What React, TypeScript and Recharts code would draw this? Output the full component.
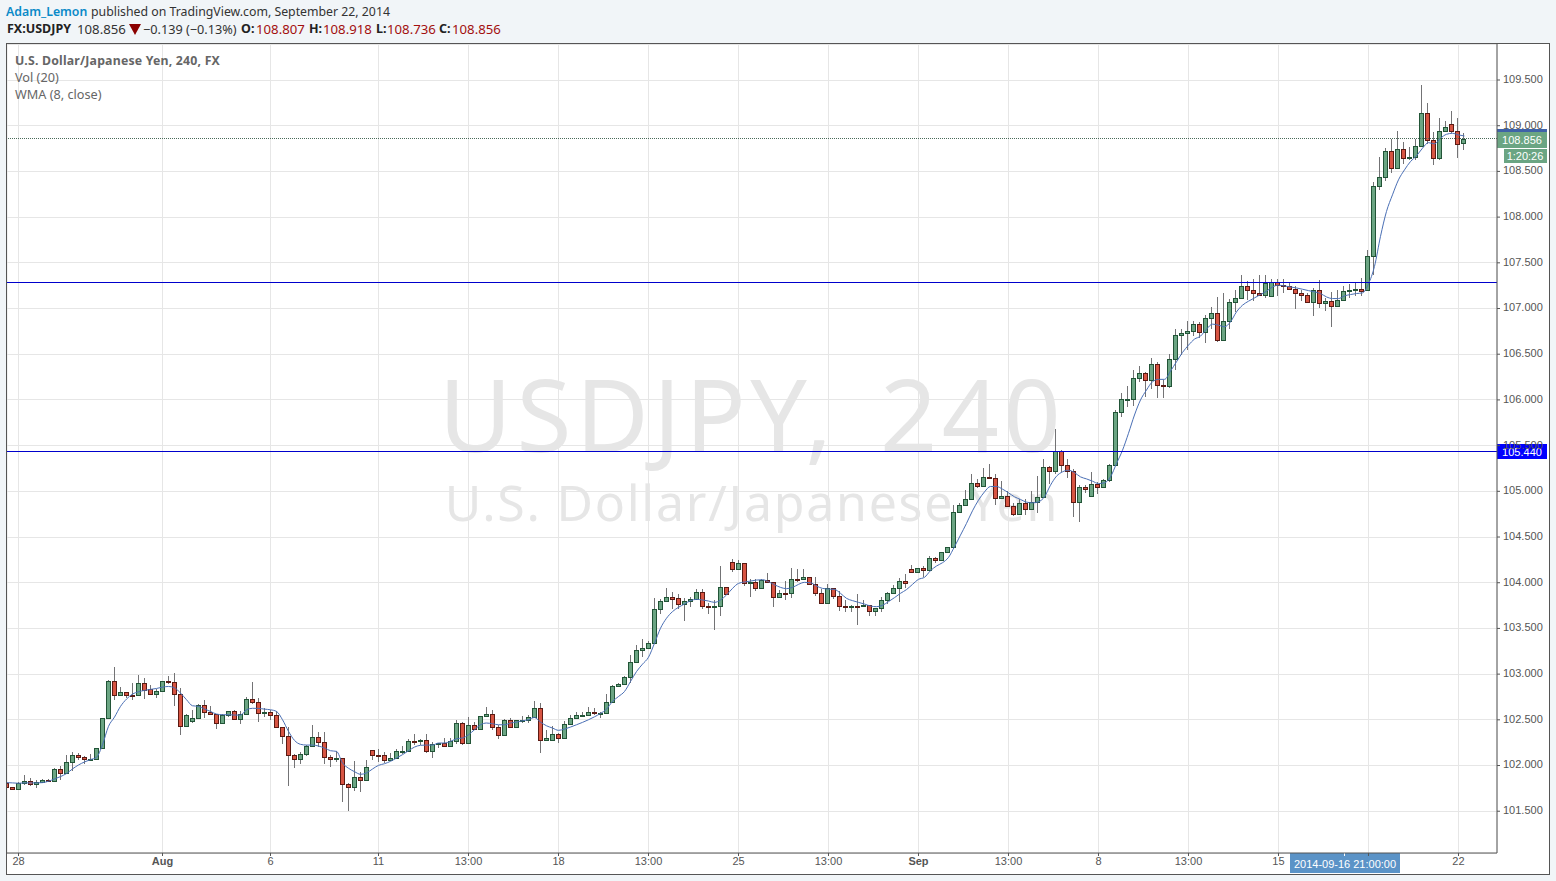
import { ComposedChart, Bar, Line, XAxis, YAxis, CartesianGrid, ReferenceLine } from 'recharts'

const opens = [
  101.81,101.766,101.744,101.806,101.832,101.795,101.817,101.842,101.83,101.96,
  101.915,102.035,102.115,102.09,102.068,102.07,102.19,102.52,102.924,102.77,
  102.803,102.77,102.77,102.90,102.836,102.778,102.814,102.924,102.91,102.78,
  102.432,102.483,102.52,102.661,102.589,102.563,102.461,102.549,102.596,102.505,
  102.563,102.727,102.694,102.574,102.585,102.552,102.421,102.323,102.115,102.072,
  102.126,102.214,102.308,102.257,102.094,102.072,102.083,101.80,101.766,101.875,
  101.842,102.17,102.115,102.115,102.057,102.083,102.155,102.16,102.27,102.268,
  102.279,102.155,102.236,102.247,102.21,102.268,102.465,102.247,102.443,102.40,
  102.541,102.563,102.421,102.334,102.498,102.421,102.494,102.498,102.527,102.629,
  102.279,102.279,102.345,102.301,102.454,102.52,102.552,102.552,102.585,102.57,
  102.58,102.69,102.868,102.89,102.966,103.13,103.261,103.283,103.337,103.716,
  103.796,103.84,103.829,103.763,103.796,103.818,103.894,103.742,103.73,103.742,
  103.949,104.229,104.146,104.211,103.993,104.004,103.938,104.025,104.004,103.84,
  103.884,103.884,104.04,104.036,104.058,103.982,103.884,103.774,103.938,103.851,
  103.742,103.73,103.745,103.742,103.752,103.687,103.72,103.807,103.884,103.938,
  104.015,104.146,104.113,104.157,104.135,104.266,104.244,104.332,104.386,104.779,
  104.845,104.921,105.096,105.063,105.161,105.15,104.932,104.954,104.834,104.757,
  104.867,104.812,104.878,104.943,105.271,105.227,105.445,105.293,105.227,104.888,
  105.052,104.954,105.085,105.052,105.129,105.293,105.864,106.0,106.006,106.236,
  106.29,106.214,106.388,106.159,106.148,106.443,106.705,106.734,106.749,106.833,
  106.738,106.891,106.956,106.661,106.858,107.076,107.12,107.251,107.207,107.175,
  107.153,107.138,107.295,107.262,107.251,107.218,107.175,107.153,107.076,107.207,
  107.055,107.087,107.033,107.098,107.197,107.207,107.218,107.2,107.574,108.339,
  108.437,108.721,108.535,108.743,108.645,108.656,108.776,109.136,108.841,108.645,
  108.94,109.016,108.94,108.807,
]

const closes = [
  101.77,101.744,101.81,101.832,101.795,101.82,101.842,101.828,101.96,101.915,
  102.04,102.115,102.09,102.068,102.072,102.19,102.516,102.924,102.77,102.803,
  102.77,102.765,102.90,102.83,102.778,102.814,102.924,102.909,102.78,102.432,
  102.552,102.516,102.661,102.585,102.563,102.465,102.552,102.596,102.505,102.563,
  102.727,102.694,102.574,102.585,102.552,102.421,102.323,102.115,102.072,102.126,
  102.214,102.308,102.257,102.094,102.072,102.08,101.80,101.766,101.875,101.842,
  101.984,102.115,102.11,102.057,102.083,102.16,102.16,102.268,102.265,102.279,
  102.155,102.236,102.247,102.21,102.268,102.465,102.247,102.443,102.40,102.541,
  102.563,102.421,102.334,102.498,102.421,102.498,102.498,102.527,102.629,102.279,
  102.301,102.345,102.301,102.454,102.52,102.552,102.556,102.585,102.574,102.58,
  102.69,102.868,102.89,102.966,103.13,103.261,103.283,103.337,103.716,103.796,
  103.84,103.825,103.763,103.796,103.818,103.894,103.742,103.73,103.742,103.949,
  103.873,104.146,104.211,103.993,104.004,103.938,104.025,104.004,103.84,103.884,
  103.88,104.036,104.036,104.058,103.982,103.884,103.774,103.938,103.851,103.742,
  103.73,103.742,103.74,103.752,103.687,103.72,103.807,103.884,103.938,104.015,
  103.993,104.113,104.157,104.135,104.266,104.244,104.332,104.386,104.779,104.845,
  104.921,105.096,105.063,105.161,105.15,104.932,104.954,104.834,104.757,104.867,
  104.812,104.878,104.943,105.271,105.227,105.445,105.293,105.227,104.888,105.052,
  105.03,105.085,105.052,105.129,105.293,105.864,106.006,106.006,106.236,106.29,
  106.214,106.388,106.159,106.148,106.443,106.705,106.734,106.749,106.833,106.738,
  106.891,106.956,106.661,106.858,107.076,107.12,107.251,107.207,107.175,107.153,
  107.284,107.295,107.262,107.251,107.218,107.175,107.153,107.076,107.207,107.055,
  107.087,107.033,107.098,107.197,107.207,107.218,107.197,107.574,108.339,108.437,
  108.721,108.535,108.743,108.645,108.656,108.776,109.136,108.841,108.645,108.94,
  108.983,108.94,108.797,108.856,
]

const highs = [
  101.82,101.77,101.815,101.90,101.868,101.84,101.853,101.853,101.977,102.0,
  102.11,102.152,102.141,102.108,102.13,102.19,102.516,102.938,103.076,102.858,
  102.803,102.90,102.993,102.956,102.884,102.836,102.93,102.982,103.01,102.851,
  102.56,102.61,102.672,102.72,102.654,102.567,102.56,102.6,102.603,102.592,
  102.749,102.916,102.738,102.629,102.61,102.596,102.421,102.421,102.13,102.152,
  102.228,102.447,102.37,102.37,102.12,102.155,102.083,101.81,102.054,101.933,
  102.065,102.17,102.18,102.148,102.137,102.18,102.217,102.29,102.345,102.29,
  102.348,102.257,102.25,102.305,102.305,102.494,102.476,102.53,102.472,102.541,
  102.643,102.61,102.447,102.512,102.523,102.498,102.545,102.552,102.709,102.687,
  102.392,102.436,102.36,102.483,102.556,102.585,102.585,102.64,102.628,102.585,
  102.784,102.883,102.908,102.98,103.21,103.32,103.385,103.363,103.833,103.818,
  103.942,103.90,103.876,103.829,103.84,103.93,103.927,103.782,103.81,104.182,
  103.955,104.255,104.248,104.211,104.036,104.036,104.036,104.106,104.01,103.92,
  104.015,104.157,104.146,104.146,104.058,104.058,103.927,103.985,103.945,103.905,
  103.81,103.76,103.876,103.81,103.76,103.725,103.847,103.9,103.975,104.047,
  104.095,104.193,104.165,104.186,104.29,104.28,104.34,104.395,104.848,104.867,
  105.012,105.194,105.14,105.252,105.296,105.187,105.11,105.0,104.87,104.918,
  104.921,105.005,105.165,105.351,105.28,105.686,105.455,105.351,105.24,105.074,
  105.074,105.209,105.10,105.14,105.3,105.886,106.072,106.152,106.323,106.367,
  106.30,106.454,106.418,106.22,106.498,106.771,106.771,106.862,106.862,106.85,
  106.927,107.015,107.131,107.175,107.10,107.2,107.371,107.298,107.328,107.364,
  107.364,107.328,107.328,107.328,107.284,107.25,107.2,107.165,107.22,107.309,
  107.12,107.182,107.2,107.248,107.273,107.284,107.334,107.644,108.379,108.656,
  108.761,108.852,108.943,108.823,108.765,108.852,109.445,109.252,108.936,109.085,
  109.052,109.161,109.085,108.918,
]

const lows = [
  101.76,101.735,101.74,101.79,101.773,101.75,101.81,101.817,101.826,101.846,
  101.91,101.944,102.057,102.02,102.06,102.06,102.186,102.516,102.72,102.763,
  102.734,102.712,102.763,102.723,102.767,102.742,102.81,102.894,102.647,102.33,
  102.42,102.469,102.516,102.523,102.556,102.396,102.458,102.527,102.498,102.45,
  102.552,102.669,102.472,102.527,102.50,102.421,102.232,101.773,101.97,102.02,
  102.10,102.203,102.2,102.014,101.988,102.035,101.60,101.50,101.72,101.708,
  101.838,102.065,102.04,102.03,102.05,102.078,102.123,102.148,102.228,102.225,
  102.134,102.08,102.188,102.203,102.203,102.24,102.225,102.24,102.392,102.392,
  102.527,102.392,102.294,102.32,102.418,102.418,102.469,102.465,102.516,102.134,
  102.272,102.272,102.243,102.295,102.45,102.51,102.527,102.54,102.556,102.515,
  102.576,102.685,102.857,102.885,102.90,103.125,103.185,103.28,103.33,103.66,
  103.79,103.716,103.716,103.585,103.738,103.81,103.709,103.66,103.487,103.64,
  103.868,104.12,104.14,103.967,103.847,103.913,103.935,103.995,103.738,103.83,
  103.814,103.836,104.01,104.03,103.975,103.854,103.77,103.77,103.818,103.694,
  103.683,103.683,103.541,103.73,103.64,103.64,103.683,103.763,103.88,103.793,
  103.938,104.105,104.105,104.066,104.128,104.211,104.236,104.325,104.38,104.768,
  104.84,104.907,105.041,105.055,105.136,104.852,104.925,104.825,104.732,104.75,
  104.743,104.805,104.765,104.935,105.085,105.187,105.212,105.147,104.721,104.666,
  104.983,104.945,104.969,105.045,105.103,105.285,105.817,105.926,105.937,106.192,
  106.035,106.119,106.024,106.024,106.126,106.327,106.49,106.545,106.70,106.68,
  106.625,106.78,106.636,106.655,106.774,106.964,107.11,107.09,107.08,107.145,
  107.116,107.13,107.138,107.171,107.2,106.993,107.08,107.07,106.92,107.007,
  106.975,106.8,107.025,107.09,107.116,107.138,107.134,107.195,107.37,108.299,
  108.39,108.488,108.53,108.583,108.62,108.62,108.765,108.80,108.575,108.62,
  108.935,108.92,108.652,108.736,
]

const wma = [
  101.813,101.81,101.806,101.81,101.81,101.81,101.813,101.828,101.853,101.879,
  101.912,101.963,102.006,102.039,102.065,102.09,102.228,102.429,102.53,102.647,
  102.727,102.782,102.807,102.822,102.833,102.843,102.858,102.865,102.851,102.793,
  102.72,102.654,102.647,102.618,102.592,102.563,102.556,102.556,102.552,102.552,
  102.61,102.626,102.625,102.617,102.61,102.592,102.501,102.374,102.275,102.232,
  102.224,102.224,102.213,102.192,102.162,102.155,102.028,101.97,101.933,101.904,
  101.919,101.962,102.002,102.02,102.046,102.082,102.119,102.162,102.202,102.221,
  102.224,102.224,102.246,102.246,102.264,102.293,102.301,102.337,102.392,102.446,
  102.465,102.457,102.446,102.446,102.465,102.475,102.49,102.501,102.526,102.475,
  102.435,102.41,102.385,102.399,102.421,102.446,102.472,102.501,102.533,102.57,
  102.617,102.701,102.755,102.81,102.919,103.028,103.109,103.185,103.338,103.502,
  103.611,103.684,103.731,103.767,103.804,103.818,103.811,103.8,103.785,103.811,
  103.866,103.938,103.993,104.008,104.018,104.029,104.033,104.011,103.978,103.949,
  103.935,103.949,103.982,104.004,104.0,103.964,103.938,103.931,103.927,103.884,
  103.829,103.804,103.785,103.767,103.745,103.738,103.753,103.793,103.837,103.884,
  103.925,103.982,104.037,104.059,104.132,104.183,104.219,104.277,104.394,104.521,
  104.649,104.787,104.903,104.994,105.053,105.053,105.024,104.984,104.94,104.911,
  104.882,104.874,104.885,104.94,105.067,105.165,105.213,105.231,105.205,105.158,
  105.136,105.111,105.085,105.093,105.158,105.304,105.449,105.635,105.835,105.999,
  106.108,106.199,106.225,106.225,106.315,106.417,106.519,106.599,106.665,106.698,
  106.774,106.829,106.818,106.8,106.854,106.963,107.036,107.08,107.116,107.153,
  107.189,107.236,107.255,107.247,107.236,107.225,107.211,107.196,107.182,107.164,
  107.127,107.109,107.109,107.138,107.153,107.164,107.171,107.27,107.461,107.789,
  108.062,108.244,108.408,108.517,108.608,108.67,108.754,108.815,108.801,108.863,
  108.906,108.917,108.899,108.888,
]

const priceTicks = [101.5, 102, 102.5, 103, 103.5, 104, 104.5, 105, 105.5, 106, 106.5, 107, 107.5, 108, 108.5, 109, 109.5]
const timeTicks = [2, 26, 44, 62, 77, 92, 107, 122, 137, 152, 167, 182, 197, 212, 227, 242]
const timeLabels = ['28', 'Aug', '6', '11', '13:00', '18', '13:00', '25', '13:00', 'Sep', '13:00', '8', '13:00', '15', '', '22']

const data = opens.map((open, i) => ({
  i,
  open,
  close: closes[i],
  range: [lows[i], highs[i]],
  wma: wma[i],
}))

function Candle({ x, y, width, height, payload }: any) {
  const { open, close, range } = payload
  const [low, high] = range
  const perUnit = height / (high - low)
  const cx = Math.floor(x + width / 2) + 0.5
  const py = (v: number) => Math.round(y + (high - v) * perUnit)
  const up = close >= open
  const top = py(Math.max(open, close))
  const bottom = Math.max(py(Math.min(open, close)), top + 1)
  return (
    <g>
      <line x1={cx} x2={cx} y1={Math.round(y)} y2={Math.round(y + height)} stroke="#737375" />
      <rect
        x={cx - 2}
        y={top + 0.5}
        width={4}
        height={bottom - top}
        fill={up ? '#6ba583' : '#d75442'}
        stroke={up ? '#225437' : '#5b1a13'}
      />
    </g>
  )
}

function TimeTick({ x, y, payload }: any) {
  const label = timeLabels[timeTicks.indexOf(payload.value)]
  const bold = label === 'Aug' || label === 'Sep'
  return (
    <text x={x} y={y + 6.5} textAnchor="middle" fontSize={11} fontWeight={bold ? 700 : 400} fill="#555">
      {label}
    </text>
  )
}

// 1px lines snapped to the pixel grid so they stay sharp
function crispH(stroke: string, dash?: string) {
  return ({ x1, x2, y1 }: any) => {
    const y = Math.floor(y1) + 0.5
    return <line x1={x1} x2={x2} y1={y} y2={y} stroke={stroke} strokeDasharray={dash} />
  }
}

function gridH({ x1, x2, y1 }: any) {
  const y = Math.floor(y1) + 0.5
  return <line x1={x1} x2={x2} y1={y} y2={y} stroke="#e6e6e6" />
}

function priceFlag(text: string, fill: string) {
  return ({ viewBox }: any) => {
    const right = viewBox.x + viewBox.width
    const mid = Math.floor(viewBox.y)
    return (
      <g>
        <rect x={right} y={mid - 7} width={50} height={15} fill={fill} />
        <text x={right + 25} y={mid + 4.5} textAnchor="middle" fontSize={11} fill="#fff">
          {text}
        </text>
      </g>
    )
  }
}

function lastPriceFlag({ viewBox }: any) {
  const right = viewBox.x + viewBox.width
  const mid = Math.floor(viewBox.y) + 1
  return (
    <g>
      <rect x={right} y={mid - 10} width={50} height={3} fill="#3f62a8" />
      <rect x={right} y={mid - 7} width={50} height={16} fill="#6ba583" />
      <text x={right + 25} y={mid + 5} textAnchor="middle" fontSize={11} fill="#fff">
        108.856
      </text>
      <rect x={right + 7} y={mid + 10} width={43} height={14} fill="#6ba583" />
      <text x={right + 28} y={mid + 21} textAnchor="middle" fontSize={11} fill="#fff">
        1:20:26
      </text>
    </g>
  )
}

function crosshairLabel({ viewBox }: any) {
  const x = Math.round(viewBox.x)
  const y = viewBox.y + viewBox.height
  return (
    <g>
      <rect x={x - 54} y={y} width={110} height={20} fill="#5b93c7" />
      <line x1={x + 0.5} x2={x + 0.5} y1={y} y2={y + 3} stroke="#fff" />
      <text x={x + 1} y={y + 15} textAnchor="middle" fontSize={11} fill="#fff">
        2014-09-16 21:00:00
      </text>
    </g>
  )
}

const abs = (left: number, top: number, extra: any = {}) => ({ position: 'absolute', left, top, whiteSpace: 'nowrap', ...extra }) as any
const red = '#a30f0f'
const markColor = '#0000cc'

export default function App() {
  return (
    <div style={abs(0, 0, { width: 1556, height: 881, background: '#f1f5f8', overflow: 'hidden', fontFamily: '"Noto Sans", sans-serif', fontSize: 13.2, lineHeight: '18px', color: '#333' })}>
      <span style={abs(6, 3, { color: '#0a8ac8', fontWeight: 600, fontSize: 12.3 })}>Adam_Lemon</span>
      <span style={abs(91, 3, { fontSize: 12.3 })}>published on TradingView.com, September 22, 2014</span>

      <b style={abs(7, 20, { color: '#222', fontSize: 12.5 })}>FX:USDJPY</b>
      <span style={abs(77, 20)}>108.856</span>
      <svg style={abs(129, 24)} width={12} height={11}>
        <polygon points="0,0 12,0 6,11" fill="#8b0000" />
      </svg>
      <span style={abs(143, 20, { fontSize: 12.7 })}>−0.139 (−0.13%)</span>
      <b style={abs(241, 20, { color: '#222', fontSize: 12.5 })}>O:</b>
      <span style={abs(256, 20, { color: red })}>108.807</span>
      <b style={abs(309, 20, { color: '#222', fontSize: 12.5 })}>H:</b>
      <span style={abs(323, 20, { color: red })}>108.918</span>
      <b style={abs(376, 20, { color: '#222', fontSize: 12.5 })}>L:</b>
      <span style={abs(387, 20, { color: red })}>108.736</span>
      <b style={abs(439, 20, { color: '#222', fontSize: 12.5 })}>C:</b>
      <span style={abs(452, 20, { color: red })}>108.856</span>

      <div style={abs(6, 43, { width: 1544, height: 832, boxSizing: 'border-box', border: '1px solid #555', background: '#fff' })} />

      <div style={abs(752, 363, { transform: 'translateX(-50%)', fontSize: 100, lineHeight: 1, letterSpacing: 4.5, wordSpacing: 13, color: '#e6e6e6' })}>USDJPY, 240</div>
      <div style={abs(752, 477, { transform: 'translateX(-50%)', fontSize: 50, lineHeight: 1, letterSpacing: 1.75, color: '#e6e6e6' })}>U.S. Dollar/Japanese Yen</div>

      <div style={abs(7, 44)}>
        <ComposedChart
          width={1542}
          height={830}
          data={data}
          margin={{ top: 0, right: 0, bottom: 0, left: 0 }}
          style={{ fontFamily: '"Liberation Sans"' }}
        >
          <CartesianGrid stroke="#e6e6e6" horizontal={gridH} />
          <XAxis
            dataKey="i"
            type="number"
            domain={[0.083, 248.417]}
            allowDataOverflow
            ticks={timeTicks}
            tick={<TimeTick />}
            tickSize={3}
            height={21}
            axisLine={{ stroke: '#555' }}
            tickLine={{ stroke: '#555' }}
            interval={0}
          />
          <YAxis
            orientation="right"
            type="number"
            domain={[101.043, 109.894]}
            allowDataOverflow
            ticks={priceTicks}
            tickFormatter={(v: number) => v.toFixed(3)}
            tick={{ fontSize: 11, fill: '#555', dy: -1 }}
            tickSize={3}
            tickMargin={3}
            width={52}
            interval={0}
            axisLine={{ stroke: '#555' }}
            tickLine={{ stroke: '#555' }}
          />
          <Line dataKey="wma" type="monotone" stroke="#4a6fb5" strokeWidth={1} dot={false} isAnimationActive={false} />
          <Bar dataKey="range" barSize={5} shape={<Candle />} isAnimationActive={false} />
          <ReferenceLine y={107.28} shape={crispH(markColor)} />
          <ReferenceLine y={105.44} shape={crispH(markColor)} label={priceFlag('105.440', '#0000ff')} />
          <ReferenceLine y={108.856} shape={crispH('#4a6b5a', '1 1')} label={lastPriceFlag} />
          <ReferenceLine x={223} stroke="none" label={crosshairLabel} />
        </ComposedChart>
      </div>

      <div style={abs(15, 52, { fontSize: 12.3, fontWeight: 700, color: '#666', letterSpacing: 0.2 })}>U.S. Dollar/Japanese Yen, 240, FX</div>
      <div style={abs(15, 68, { fontSize: 12.7, color: '#666' })}>Vol (20)</div>
      <div style={abs(15, 85, { fontSize: 12.7, color: '#666' })}>WMA (8, close)</div>
    </div>
  )
}
